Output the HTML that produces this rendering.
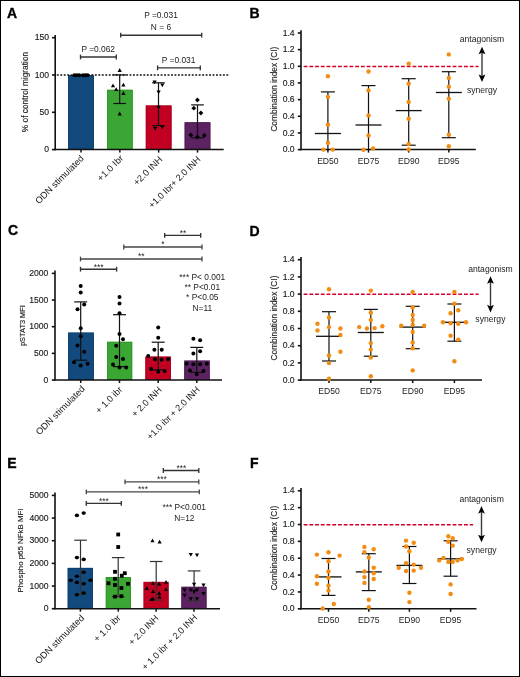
<!DOCTYPE html>
<html><head><meta charset="utf-8"><title>Figure</title>
<style>
html,body{margin:0;padding:0;background:#fff;}
body{width:520px;height:677px;overflow:hidden;}
svg{display:block;font-family:"Liberation Sans",sans-serif;filter:blur(0.25px);}
text.t{stroke:#222;stroke-width:0.15px;}
</style></head>
<body>
<svg width="520" height="677" viewBox="0 0 520 677">
<rect x="0" y="0" width="520" height="677" fill="#fff"/>
<rect x="0.5" y="0.5" width="519" height="676" fill="none" stroke="#000" stroke-width="1"/>
<text x="7.10" y="17.70" font-size="14.0" text-anchor="start" font-weight="bold" fill="#000" stroke="#000" stroke-width="0.35">A</text>
<line x1="55.20" y1="34.90" x2="55.20" y2="150.20" stroke="#111" stroke-width="1.6" />
<line x1="52.00" y1="37.70" x2="55.20" y2="37.70" stroke="#111" stroke-width="1.6" />
<text x="49.00" y="40.30" font-size="8.6" text-anchor="end" font-weight="normal" fill="#222" class="t">150</text>
<line x1="52.00" y1="75.00" x2="55.20" y2="75.00" stroke="#111" stroke-width="1.6" />
<text x="49.00" y="77.60" font-size="8.6" text-anchor="end" font-weight="normal" fill="#222" class="t">100</text>
<line x1="52.00" y1="112.30" x2="55.20" y2="112.30" stroke="#111" stroke-width="1.6" />
<text x="49.00" y="114.90" font-size="8.6" text-anchor="end" font-weight="normal" fill="#222" class="t">50</text>
<line x1="52.00" y1="149.60" x2="55.20" y2="149.60" stroke="#111" stroke-width="1.6" />
<text x="49.00" y="152.20" font-size="8.6" text-anchor="end" font-weight="normal" fill="#222" class="t">0</text>
<rect x="68.15" y="75.20" width="25.70" height="74.40" fill="#124a7e"/>
<rect x="68.60" y="75.65" width="24.80" height="73.50" fill="none" stroke="#0c3e70" stroke-width="0.9"/>
<rect x="107.00" y="89.80" width="25.70" height="59.80" fill="#3ca635"/>
<rect x="107.45" y="90.25" width="24.80" height="58.90" fill="none" stroke="#2f962a" stroke-width="0.9"/>
<rect x="145.80" y="105.50" width="25.70" height="44.10" fill="#c10022"/>
<rect x="146.25" y="105.95" width="24.80" height="43.20" fill="none" stroke="#a9001d" stroke-width="0.9"/>
<rect x="184.65" y="122.30" width="25.70" height="27.30" fill="#5c2262"/>
<rect x="185.10" y="122.75" width="24.80" height="26.40" fill="none" stroke="#4b1a52" stroke-width="0.9"/>
<line x1="55.20" y1="75.00" x2="229.00" y2="75.00" stroke="#111" stroke-width="1.5" stroke-dasharray="1.9 1.56" stroke-dashoffset="1.83"/>
<line x1="54.60" y1="149.60" x2="223.70" y2="149.60" stroke="#111" stroke-width="1.5" />
<line x1="81.00" y1="149.60" x2="81.00" y2="152.60" stroke="#111" stroke-width="1.5" />
<line x1="119.85" y1="149.60" x2="119.85" y2="152.60" stroke="#111" stroke-width="1.5" />
<line x1="158.65" y1="149.60" x2="158.65" y2="152.60" stroke="#111" stroke-width="1.5" />
<line x1="197.50" y1="149.60" x2="197.50" y2="152.60" stroke="#111" stroke-width="1.5" />
<line x1="119.70" y1="74.90" x2="119.70" y2="103.50" stroke="#111" stroke-width="1.2" />
<line x1="113.35" y1="74.90" x2="126.05" y2="74.90" stroke="#111" stroke-width="1.2" />
<line x1="113.35" y1="103.50" x2="126.05" y2="103.50" stroke="#111" stroke-width="1.2" />
<line x1="158.50" y1="82.80" x2="158.50" y2="125.70" stroke="#111" stroke-width="1.2" />
<line x1="152.15" y1="82.80" x2="164.85" y2="82.80" stroke="#111" stroke-width="1.2" />
<line x1="152.15" y1="125.70" x2="164.85" y2="125.70" stroke="#111" stroke-width="1.2" />
<line x1="197.50" y1="104.90" x2="197.50" y2="137.70" stroke="#111" stroke-width="1.2" />
<line x1="191.15" y1="104.90" x2="203.85" y2="104.90" stroke="#111" stroke-width="1.2" />
<line x1="191.15" y1="137.70" x2="203.85" y2="137.70" stroke="#111" stroke-width="1.2" />
<circle cx="74.40" cy="75.20" r="2.0" fill="#000"/>
<circle cx="76.80" cy="75.20" r="2.0" fill="#000"/>
<circle cx="79.20" cy="75.20" r="2.0" fill="#000"/>
<circle cx="83.00" cy="75.20" r="2.0" fill="#000"/>
<circle cx="85.40" cy="75.20" r="2.0" fill="#000"/>
<circle cx="87.50" cy="75.20" r="2.0" fill="#000"/>
<path d="M117.60,71.89 L121.80,71.89 L119.70,68.11Z" fill="#000"/>
<path d="M110.90,87.29 L115.10,87.29 L113.00,83.51Z" fill="#000"/>
<path d="M114.10,91.09 L118.30,91.09 L116.20,87.31Z" fill="#000"/>
<path d="M121.30,86.49 L125.50,86.49 L123.40,82.71Z" fill="#000"/>
<path d="M121.30,94.89 L125.50,94.89 L123.40,91.11Z" fill="#000"/>
<path d="M117.60,115.39 L121.80,115.39 L119.70,111.61Z" fill="#000"/>
<path d="M152.50,80.41 L156.70,80.41 L154.60,84.19Z" fill="#000"/>
<path d="M160.20,83.51 L164.40,83.51 L162.30,87.29Z" fill="#000"/>
<path d="M156.50,90.41 L160.70,90.41 L158.60,94.19Z" fill="#000"/>
<path d="M156.50,105.81 L160.70,105.81 L158.60,109.59Z" fill="#000"/>
<path d="M153.10,126.91 L157.30,126.91 L155.20,130.69Z" fill="#000"/>
<path d="M160.20,125.51 L164.40,125.51 L162.30,129.29Z" fill="#000"/>
<path d="M197.40,97.60 L199.80,100.00 L197.40,102.40 L195.00,100.00Z" fill="#000"/>
<path d="M193.80,105.80 L196.20,108.20 L193.80,110.60 L191.40,108.20Z" fill="#000"/>
<path d="M200.90,110.60 L203.30,113.00 L200.90,115.40 L198.50,113.00Z" fill="#000"/>
<path d="M190.80,132.60 L193.20,135.00 L190.80,137.40 L188.40,135.00Z" fill="#000"/>
<path d="M197.40,134.60 L199.80,137.00 L197.40,139.40 L195.00,137.00Z" fill="#000"/>
<path d="M204.30,133.00 L206.70,135.40 L204.30,137.80 L201.90,135.40Z" fill="#000"/>
<line x1="80.50" y1="57.00" x2="116.30" y2="57.00" stroke="#333" stroke-width="1.35" />
<line x1="80.50" y1="54.60" x2="80.50" y2="59.40" stroke="#333" stroke-width="1.35" />
<line x1="116.30" y1="54.60" x2="116.30" y2="59.40" stroke="#333" stroke-width="1.35" />
<text x="98.20" y="52.40" font-size="8.4" text-anchor="middle" font-weight="normal" fill="#222" >P =0.062</text>
<line x1="120.70" y1="35.20" x2="201.70" y2="35.20" stroke="#333" stroke-width="1.35" />
<line x1="120.70" y1="32.80" x2="120.70" y2="37.60" stroke="#333" stroke-width="1.35" />
<line x1="201.70" y1="32.80" x2="201.70" y2="37.60" stroke="#333" stroke-width="1.35" />
<text x="161.00" y="18.00" font-size="8.4" text-anchor="middle" font-weight="normal" fill="#222" >P =0.031</text>
<text x="161.00" y="30.40" font-size="8.4" text-anchor="middle" font-weight="normal" fill="#222" >N = 6</text>
<line x1="157.60" y1="67.80" x2="200.30" y2="67.80" stroke="#333" stroke-width="1.35" />
<line x1="157.60" y1="65.40" x2="157.60" y2="70.20" stroke="#333" stroke-width="1.35" />
<line x1="200.30" y1="65.40" x2="200.30" y2="70.20" stroke="#333" stroke-width="1.35" />
<text x="178.60" y="63.00" font-size="8.4" text-anchor="middle" font-weight="normal" fill="#222" >P =0.031</text>
<text x="0" y="0" font-size="8.3" text-anchor="middle" fill="#222" transform="translate(25.40,92.00) rotate(-90)" dominant-baseline="central" class="t">% of control migration</text>
<text x="0" y="0" font-size="9.2" text-anchor="end" fill="#222" textLength="64.35" lengthAdjust="spacingAndGlyphs" transform="translate(84.38,158.96) rotate(-45)">ODN stimulated</text>
<text x="0" y="0" font-size="9.2" text-anchor="end" fill="#222" textLength="33.05" lengthAdjust="spacingAndGlyphs" transform="translate(124.01,158.71) rotate(-45)">+1.0 Ibr</text>
<text x="0" y="0" font-size="9.2" text-anchor="end" fill="#222" textLength="36.93" lengthAdjust="spacingAndGlyphs" transform="translate(162.99,159.94) rotate(-45)">+2.0 INH</text>
<text x="0" y="0" font-size="9.2" text-anchor="end" fill="#222" textLength="69.12" lengthAdjust="spacingAndGlyphs" transform="translate(201.14,159.94) rotate(-45)">+1.0 Ibr+ 2.0 INH</text>
<text x="249.60" y="17.70" font-size="14.0" text-anchor="start" font-weight="bold" fill="#000" stroke="#000" stroke-width="0.35">B</text>
<line x1="301.00" y1="30.18" x2="301.00" y2="150.20" stroke="#111" stroke-width="1.6" />
<line x1="297.80" y1="32.98" x2="301.00" y2="32.98" stroke="#111" stroke-width="1.6" />
<text x="294.60" y="35.58" font-size="8.6" text-anchor="end" font-weight="normal" fill="#222" class="t">1.4</text>
<line x1="297.80" y1="49.64" x2="301.00" y2="49.64" stroke="#111" stroke-width="1.6" />
<text x="294.60" y="52.24" font-size="8.6" text-anchor="end" font-weight="normal" fill="#222" class="t">1.2</text>
<line x1="297.80" y1="66.30" x2="301.00" y2="66.30" stroke="#111" stroke-width="1.6" />
<text x="294.60" y="68.90" font-size="8.6" text-anchor="end" font-weight="normal" fill="#222" class="t">1.0</text>
<line x1="297.80" y1="82.96" x2="301.00" y2="82.96" stroke="#111" stroke-width="1.6" />
<text x="294.60" y="85.56" font-size="8.6" text-anchor="end" font-weight="normal" fill="#222" class="t">0.8</text>
<line x1="297.80" y1="99.62" x2="301.00" y2="99.62" stroke="#111" stroke-width="1.6" />
<text x="294.60" y="102.22" font-size="8.6" text-anchor="end" font-weight="normal" fill="#222" class="t">0.6</text>
<line x1="297.80" y1="116.28" x2="301.00" y2="116.28" stroke="#111" stroke-width="1.6" />
<text x="294.60" y="118.88" font-size="8.6" text-anchor="end" font-weight="normal" fill="#222" class="t">0.4</text>
<line x1="297.80" y1="132.94" x2="301.00" y2="132.94" stroke="#111" stroke-width="1.6" />
<text x="294.60" y="135.54" font-size="8.6" text-anchor="end" font-weight="normal" fill="#222" class="t">0.2</text>
<line x1="297.80" y1="149.60" x2="301.00" y2="149.60" stroke="#111" stroke-width="1.6" />
<text x="294.60" y="152.20" font-size="8.6" text-anchor="end" font-weight="normal" fill="#222" class="t">0.0</text>
<line x1="300.20" y1="149.60" x2="475.80" y2="149.60" stroke="#111" stroke-width="1.5" />
<line x1="327.90" y1="149.60" x2="327.90" y2="152.60" stroke="#111" stroke-width="1.5" />
<line x1="368.50" y1="149.60" x2="368.50" y2="152.60" stroke="#111" stroke-width="1.5" />
<line x1="408.70" y1="149.60" x2="408.70" y2="152.60" stroke="#111" stroke-width="1.5" />
<line x1="448.80" y1="149.60" x2="448.80" y2="152.60" stroke="#111" stroke-width="1.5" />
<line x1="303.60" y1="66.50" x2="478.50" y2="66.50" stroke="#d4002a" stroke-width="1.5" stroke-dasharray="3.85 1.88"/>
<line x1="327.90" y1="91.90" x2="327.90" y2="149.60" stroke="#111" stroke-width="1.2" />
<line x1="320.90" y1="91.90" x2="334.90" y2="91.90" stroke="#111" stroke-width="1.2" />
<line x1="314.90" y1="133.50" x2="340.90" y2="133.50" stroke="#111" stroke-width="1.3" />
<circle cx="327.90" cy="76.30" r="2.2" fill="#f28c12"/>
<circle cx="327.90" cy="96.90" r="2.2" fill="#f28c12"/>
<circle cx="327.90" cy="124.80" r="2.2" fill="#f28c12"/>
<circle cx="327.90" cy="142.70" r="2.2" fill="#f28c12"/>
<circle cx="323.50" cy="149.60" r="2.2" fill="#f28c12"/>
<circle cx="332.70" cy="149.60" r="2.2" fill="#f28c12"/>
<line x1="368.50" y1="85.60" x2="368.50" y2="149.60" stroke="#111" stroke-width="1.2" />
<line x1="361.50" y1="85.60" x2="375.50" y2="85.60" stroke="#111" stroke-width="1.2" />
<line x1="355.50" y1="125.00" x2="381.50" y2="125.00" stroke="#111" stroke-width="1.3" />
<circle cx="368.50" cy="71.50" r="2.2" fill="#f28c12"/>
<circle cx="368.50" cy="90.40" r="2.2" fill="#f28c12"/>
<circle cx="368.50" cy="115.40" r="2.2" fill="#f28c12"/>
<circle cx="368.50" cy="135.40" r="2.2" fill="#f28c12"/>
<circle cx="363.50" cy="149.80" r="2.2" fill="#f28c12"/>
<circle cx="373.10" cy="148.50" r="2.2" fill="#f28c12"/>
<line x1="408.70" y1="78.70" x2="408.70" y2="145.20" stroke="#111" stroke-width="1.2" />
<line x1="401.70" y1="78.70" x2="415.70" y2="78.70" stroke="#111" stroke-width="1.2" />
<line x1="401.70" y1="145.20" x2="415.70" y2="145.20" stroke="#111" stroke-width="1.2" />
<line x1="395.70" y1="110.60" x2="421.70" y2="110.60" stroke="#111" stroke-width="1.3" />
<circle cx="408.70" cy="63.80" r="2.2" fill="#f28c12"/>
<circle cx="408.70" cy="83.70" r="2.2" fill="#f28c12"/>
<circle cx="408.70" cy="101.90" r="2.2" fill="#f28c12"/>
<circle cx="408.70" cy="118.80" r="2.2" fill="#f28c12"/>
<circle cx="408.70" cy="144.00" r="2.2" fill="#f28c12"/>
<circle cx="408.70" cy="149.40" r="2.2" fill="#f28c12"/>
<line x1="448.80" y1="71.70" x2="448.80" y2="137.70" stroke="#111" stroke-width="1.2" />
<line x1="441.80" y1="71.70" x2="455.80" y2="71.70" stroke="#111" stroke-width="1.2" />
<line x1="441.80" y1="137.70" x2="455.80" y2="137.70" stroke="#111" stroke-width="1.2" />
<line x1="435.80" y1="92.50" x2="461.80" y2="92.50" stroke="#111" stroke-width="1.3" />
<circle cx="448.80" cy="54.40" r="2.2" fill="#f28c12"/>
<circle cx="448.80" cy="77.90" r="2.2" fill="#f28c12"/>
<circle cx="448.80" cy="86.70" r="2.2" fill="#f28c12"/>
<circle cx="448.80" cy="98.70" r="2.2" fill="#f28c12"/>
<circle cx="448.80" cy="134.80" r="2.2" fill="#f28c12"/>
<circle cx="448.80" cy="146.30" r="2.2" fill="#f28c12"/>
<line x1="482.00" y1="51.70" x2="482.00" y2="77.10" stroke="#3a3a3a" stroke-width="1.4" />
<path d="M482.00,46.70 L485.40,54.30 L482.00,52.70 L478.60,54.30Z" fill="#000"/>
<path d="M482.00,82.10 L485.40,74.50 L482.00,76.10 L478.60,74.50Z" fill="#000"/>
<text x="482.00" y="42.00" font-size="8.6" text-anchor="middle" font-weight="normal" fill="#222" >antagonism</text>
<text x="482.00" y="93.20" font-size="8.6" text-anchor="middle" font-weight="normal" fill="#222" >synergy</text>
<text x="0" y="0" font-size="8.3" text-anchor="middle" fill="#222" transform="translate(274.00,89.20) rotate(-90)" dominant-baseline="central" class="t">Combination index (CI)</text>
<text x="327.90" y="164.00" font-size="8.6" text-anchor="middle" font-weight="normal" fill="#222" >ED50</text>
<text x="368.50" y="164.00" font-size="8.6" text-anchor="middle" font-weight="normal" fill="#222" >ED75</text>
<text x="408.70" y="164.00" font-size="8.6" text-anchor="middle" font-weight="normal" fill="#222" >ED90</text>
<text x="448.80" y="164.00" font-size="8.6" text-anchor="middle" font-weight="normal" fill="#222" >ED95</text>
<text x="249.60" y="235.60" font-size="14.0" text-anchor="start" font-weight="bold" fill="#000" stroke="#000" stroke-width="0.35">D</text>
<line x1="301.00" y1="256.90" x2="301.00" y2="380.70" stroke="#111" stroke-width="1.6" />
<line x1="297.80" y1="259.70" x2="301.00" y2="259.70" stroke="#111" stroke-width="1.6" />
<text x="294.60" y="262.30" font-size="8.6" text-anchor="end" font-weight="normal" fill="#222" class="t">1.4</text>
<line x1="297.80" y1="276.90" x2="301.00" y2="276.90" stroke="#111" stroke-width="1.6" />
<text x="294.60" y="279.50" font-size="8.6" text-anchor="end" font-weight="normal" fill="#222" class="t">1.2</text>
<line x1="297.80" y1="294.10" x2="301.00" y2="294.10" stroke="#111" stroke-width="1.6" />
<text x="294.60" y="296.70" font-size="8.6" text-anchor="end" font-weight="normal" fill="#222" class="t">1.0</text>
<line x1="297.80" y1="311.30" x2="301.00" y2="311.30" stroke="#111" stroke-width="1.6" />
<text x="294.60" y="313.90" font-size="8.6" text-anchor="end" font-weight="normal" fill="#222" class="t">0.8</text>
<line x1="297.80" y1="328.50" x2="301.00" y2="328.50" stroke="#111" stroke-width="1.6" />
<text x="294.60" y="331.10" font-size="8.6" text-anchor="end" font-weight="normal" fill="#222" class="t">0.6</text>
<line x1="297.80" y1="345.70" x2="301.00" y2="345.70" stroke="#111" stroke-width="1.6" />
<text x="294.60" y="348.30" font-size="8.6" text-anchor="end" font-weight="normal" fill="#222" class="t">0.4</text>
<line x1="297.80" y1="362.90" x2="301.00" y2="362.90" stroke="#111" stroke-width="1.6" />
<text x="294.60" y="365.50" font-size="8.6" text-anchor="end" font-weight="normal" fill="#222" class="t">0.2</text>
<line x1="297.80" y1="380.10" x2="301.00" y2="380.10" stroke="#111" stroke-width="1.6" />
<text x="294.60" y="382.70" font-size="8.6" text-anchor="end" font-weight="normal" fill="#222" class="t">0.0</text>
<line x1="300.20" y1="380.10" x2="482.00" y2="380.10" stroke="#111" stroke-width="1.5" />
<line x1="329.00" y1="380.10" x2="329.00" y2="383.10" stroke="#111" stroke-width="1.5" />
<line x1="370.80" y1="380.10" x2="370.80" y2="383.10" stroke="#111" stroke-width="1.5" />
<line x1="412.70" y1="380.10" x2="412.70" y2="383.10" stroke="#111" stroke-width="1.5" />
<line x1="454.40" y1="380.10" x2="454.40" y2="383.10" stroke="#111" stroke-width="1.5" />
<line x1="303.60" y1="294.20" x2="478.60" y2="294.20" stroke="#d4002a" stroke-width="1.5" stroke-dasharray="3.85 1.88"/>
<line x1="329.00" y1="311.70" x2="329.00" y2="361.00" stroke="#111" stroke-width="1.2" />
<line x1="322.00" y1="311.70" x2="336.00" y2="311.70" stroke="#111" stroke-width="1.2" />
<line x1="322.00" y1="361.00" x2="336.00" y2="361.00" stroke="#111" stroke-width="1.2" />
<line x1="316.00" y1="336.30" x2="342.00" y2="336.30" stroke="#111" stroke-width="1.3" />
<circle cx="329.00" cy="289.20" r="2.2" fill="#f28c12"/>
<circle cx="329.00" cy="317.50" r="2.2" fill="#f28c12"/>
<circle cx="317.50" cy="323.70" r="2.2" fill="#f28c12"/>
<circle cx="317.50" cy="330.40" r="2.2" fill="#f28c12"/>
<circle cx="329.00" cy="327.10" r="2.2" fill="#f28c12"/>
<circle cx="340.40" cy="328.50" r="2.2" fill="#f28c12"/>
<circle cx="340.40" cy="335.00" r="2.2" fill="#f28c12"/>
<circle cx="340.40" cy="351.70" r="2.2" fill="#f28c12"/>
<circle cx="329.00" cy="355.40" r="2.2" fill="#f28c12"/>
<circle cx="329.00" cy="363.10" r="2.2" fill="#f28c12"/>
<circle cx="329.00" cy="378.70" r="2.2" fill="#f28c12"/>
<line x1="370.80" y1="309.40" x2="370.80" y2="356.20" stroke="#111" stroke-width="1.2" />
<line x1="363.80" y1="309.40" x2="377.80" y2="309.40" stroke="#111" stroke-width="1.2" />
<line x1="363.80" y1="356.20" x2="377.80" y2="356.20" stroke="#111" stroke-width="1.2" />
<line x1="357.80" y1="332.50" x2="383.80" y2="332.50" stroke="#111" stroke-width="1.3" />
<circle cx="370.80" cy="290.60" r="2.2" fill="#f28c12"/>
<circle cx="370.80" cy="312.70" r="2.2" fill="#f28c12"/>
<circle cx="370.80" cy="320.00" r="2.2" fill="#f28c12"/>
<circle cx="359.20" cy="327.10" r="2.2" fill="#f28c12"/>
<circle cx="366.90" cy="328.50" r="2.2" fill="#f28c12"/>
<circle cx="374.60" cy="328.10" r="2.2" fill="#f28c12"/>
<circle cx="382.30" cy="326.20" r="2.2" fill="#f28c12"/>
<circle cx="370.80" cy="343.10" r="2.2" fill="#f28c12"/>
<circle cx="370.80" cy="349.60" r="2.2" fill="#f28c12"/>
<circle cx="370.80" cy="357.50" r="2.2" fill="#f28c12"/>
<circle cx="370.80" cy="376.20" r="2.2" fill="#f28c12"/>
<line x1="412.70" y1="306.30" x2="412.70" y2="348.70" stroke="#111" stroke-width="1.2" />
<line x1="405.70" y1="306.30" x2="419.70" y2="306.30" stroke="#111" stroke-width="1.2" />
<line x1="405.70" y1="348.70" x2="419.70" y2="348.70" stroke="#111" stroke-width="1.2" />
<line x1="399.70" y1="327.10" x2="425.70" y2="327.10" stroke="#111" stroke-width="1.3" />
<circle cx="412.70" cy="291.90" r="2.2" fill="#f28c12"/>
<circle cx="412.70" cy="307.50" r="2.2" fill="#f28c12"/>
<circle cx="412.70" cy="315.00" r="2.2" fill="#f28c12"/>
<circle cx="412.70" cy="320.00" r="2.2" fill="#f28c12"/>
<circle cx="412.70" cy="324.80" r="2.2" fill="#f28c12"/>
<circle cx="401.20" cy="325.80" r="2.2" fill="#f28c12"/>
<circle cx="424.20" cy="325.80" r="2.2" fill="#f28c12"/>
<circle cx="412.70" cy="331.90" r="2.2" fill="#f28c12"/>
<circle cx="412.70" cy="342.50" r="2.2" fill="#f28c12"/>
<circle cx="412.70" cy="348.30" r="2.2" fill="#f28c12"/>
<circle cx="412.70" cy="370.40" r="2.2" fill="#f28c12"/>
<line x1="454.40" y1="304.00" x2="454.40" y2="341.20" stroke="#111" stroke-width="1.2" />
<line x1="447.40" y1="304.00" x2="461.40" y2="304.00" stroke="#111" stroke-width="1.2" />
<line x1="447.40" y1="341.20" x2="461.40" y2="341.20" stroke="#111" stroke-width="1.2" />
<line x1="441.40" y1="322.30" x2="467.40" y2="322.30" stroke="#111" stroke-width="1.3" />
<circle cx="454.40" cy="291.90" r="2.2" fill="#f28c12"/>
<circle cx="454.40" cy="303.70" r="2.2" fill="#f28c12"/>
<circle cx="458.30" cy="310.20" r="2.2" fill="#f28c12"/>
<circle cx="450.60" cy="313.30" r="2.2" fill="#f28c12"/>
<circle cx="442.90" cy="322.30" r="2.2" fill="#f28c12"/>
<circle cx="450.60" cy="323.30" r="2.2" fill="#f28c12"/>
<circle cx="458.30" cy="323.80" r="2.2" fill="#f28c12"/>
<circle cx="466.00" cy="322.30" r="2.2" fill="#f28c12"/>
<circle cx="450.60" cy="335.80" r="2.2" fill="#f28c12"/>
<circle cx="458.30" cy="339.60" r="2.2" fill="#f28c12"/>
<circle cx="454.40" cy="361.20" r="2.2" fill="#f28c12"/>
<line x1="490.50" y1="281.20" x2="490.50" y2="307.40" stroke="#3a3a3a" stroke-width="1.4" />
<path d="M490.50,276.20 L493.90,283.80 L490.50,282.20 L487.10,283.80Z" fill="#000"/>
<path d="M490.50,312.40 L493.90,304.80 L490.50,306.40 L487.10,304.80Z" fill="#000"/>
<text x="490.40" y="271.80" font-size="8.6" text-anchor="middle" font-weight="normal" fill="#222" >antagonism</text>
<text x="490.40" y="322.40" font-size="8.6" text-anchor="middle" font-weight="normal" fill="#222" >synergy</text>
<text x="0" y="0" font-size="8.3" text-anchor="middle" fill="#222" transform="translate(274.00,318.00) rotate(-90)" dominant-baseline="central" class="t">Combination index (CI)</text>
<text x="329.00" y="394.30" font-size="8.6" text-anchor="middle" font-weight="normal" fill="#222" >ED50</text>
<text x="370.80" y="394.30" font-size="8.6" text-anchor="middle" font-weight="normal" fill="#222" >ED75</text>
<text x="412.70" y="394.30" font-size="8.6" text-anchor="middle" font-weight="normal" fill="#222" >ED90</text>
<text x="454.40" y="394.30" font-size="8.6" text-anchor="middle" font-weight="normal" fill="#222" >ED95</text>
<text x="250.10" y="467.70" font-size="14.0" text-anchor="start" font-weight="bold" fill="#000" stroke="#000" stroke-width="0.35">F</text>
<line x1="301.00" y1="487.98" x2="301.00" y2="609.40" stroke="#111" stroke-width="1.6" />
<line x1="297.80" y1="490.78" x2="301.00" y2="490.78" stroke="#111" stroke-width="1.6" />
<text x="294.60" y="493.38" font-size="8.6" text-anchor="end" font-weight="normal" fill="#222" class="t">1.4</text>
<line x1="297.80" y1="507.64" x2="301.00" y2="507.64" stroke="#111" stroke-width="1.6" />
<text x="294.60" y="510.24" font-size="8.6" text-anchor="end" font-weight="normal" fill="#222" class="t">1.2</text>
<line x1="297.80" y1="524.50" x2="301.00" y2="524.50" stroke="#111" stroke-width="1.6" />
<text x="294.60" y="527.10" font-size="8.6" text-anchor="end" font-weight="normal" fill="#222" class="t">1.0</text>
<line x1="297.80" y1="541.36" x2="301.00" y2="541.36" stroke="#111" stroke-width="1.6" />
<text x="294.60" y="543.96" font-size="8.6" text-anchor="end" font-weight="normal" fill="#222" class="t">0.8</text>
<line x1="297.80" y1="558.22" x2="301.00" y2="558.22" stroke="#111" stroke-width="1.6" />
<text x="294.60" y="560.82" font-size="8.6" text-anchor="end" font-weight="normal" fill="#222" class="t">0.6</text>
<line x1="297.80" y1="575.08" x2="301.00" y2="575.08" stroke="#111" stroke-width="1.6" />
<text x="294.60" y="577.68" font-size="8.6" text-anchor="end" font-weight="normal" fill="#222" class="t">0.4</text>
<line x1="297.80" y1="591.94" x2="301.00" y2="591.94" stroke="#111" stroke-width="1.6" />
<text x="294.60" y="594.54" font-size="8.6" text-anchor="end" font-weight="normal" fill="#222" class="t">0.2</text>
<line x1="297.80" y1="608.80" x2="301.00" y2="608.80" stroke="#111" stroke-width="1.6" />
<text x="294.60" y="611.40" font-size="8.6" text-anchor="end" font-weight="normal" fill="#222" class="t">0.0</text>
<line x1="300.20" y1="608.80" x2="476.50" y2="608.80" stroke="#111" stroke-width="1.5" />
<line x1="328.50" y1="608.80" x2="328.50" y2="611.80" stroke="#111" stroke-width="1.5" />
<line x1="368.80" y1="608.80" x2="368.80" y2="611.80" stroke="#111" stroke-width="1.5" />
<line x1="409.40" y1="608.80" x2="409.40" y2="611.80" stroke="#111" stroke-width="1.5" />
<line x1="450.60" y1="608.80" x2="450.60" y2="611.80" stroke="#111" stroke-width="1.5" />
<line x1="303.60" y1="524.80" x2="473.20" y2="524.80" stroke="#d4002a" stroke-width="1.5" stroke-dasharray="3.85 1.88"/>
<line x1="328.50" y1="558.50" x2="328.50" y2="595.40" stroke="#111" stroke-width="1.2" />
<line x1="321.50" y1="558.50" x2="335.50" y2="558.50" stroke="#111" stroke-width="1.2" />
<line x1="321.50" y1="595.40" x2="335.50" y2="595.40" stroke="#111" stroke-width="1.2" />
<line x1="315.50" y1="576.90" x2="341.50" y2="576.90" stroke="#111" stroke-width="1.3" />
<circle cx="316.90" cy="554.60" r="2.2" fill="#f28c12"/>
<circle cx="328.50" cy="552.30" r="2.2" fill="#f28c12"/>
<circle cx="339.60" cy="555.60" r="2.2" fill="#f28c12"/>
<circle cx="328.50" cy="561.30" r="2.2" fill="#f28c12"/>
<circle cx="328.50" cy="571.50" r="2.2" fill="#f28c12"/>
<circle cx="316.90" cy="576.20" r="2.2" fill="#f28c12"/>
<circle cx="328.50" cy="577.70" r="2.2" fill="#f28c12"/>
<circle cx="316.90" cy="583.80" r="2.2" fill="#f28c12"/>
<circle cx="328.50" cy="585.80" r="2.2" fill="#f28c12"/>
<circle cx="328.50" cy="590.60" r="2.2" fill="#f28c12"/>
<circle cx="333.80" cy="604.00" r="2.2" fill="#f28c12"/>
<circle cx="322.70" cy="608.50" r="2.2" fill="#f28c12"/>
<line x1="368.80" y1="553.70" x2="368.80" y2="590.60" stroke="#111" stroke-width="1.2" />
<line x1="361.80" y1="553.70" x2="375.80" y2="553.70" stroke="#111" stroke-width="1.2" />
<line x1="361.80" y1="590.60" x2="375.80" y2="590.60" stroke="#111" stroke-width="1.2" />
<line x1="355.80" y1="571.90" x2="381.80" y2="571.90" stroke="#111" stroke-width="1.3" />
<circle cx="364.40" cy="546.90" r="2.2" fill="#f28c12"/>
<circle cx="373.70" cy="549.20" r="2.2" fill="#f28c12"/>
<circle cx="364.40" cy="552.10" r="2.2" fill="#f28c12"/>
<circle cx="368.80" cy="557.50" r="2.2" fill="#f28c12"/>
<circle cx="373.70" cy="567.70" r="2.2" fill="#f28c12"/>
<circle cx="364.40" cy="571.50" r="2.2" fill="#f28c12"/>
<circle cx="373.70" cy="573.30" r="2.2" fill="#f28c12"/>
<circle cx="364.40" cy="577.10" r="2.2" fill="#f28c12"/>
<circle cx="373.70" cy="579.00" r="2.2" fill="#f28c12"/>
<circle cx="364.40" cy="582.90" r="2.2" fill="#f28c12"/>
<circle cx="368.80" cy="599.80" r="2.2" fill="#f28c12"/>
<circle cx="368.80" cy="607.10" r="2.2" fill="#f28c12"/>
<line x1="409.40" y1="546.50" x2="409.40" y2="583.50" stroke="#111" stroke-width="1.2" />
<line x1="402.40" y1="546.50" x2="416.40" y2="546.50" stroke="#111" stroke-width="1.2" />
<line x1="402.40" y1="583.50" x2="416.40" y2="583.50" stroke="#111" stroke-width="1.2" />
<line x1="396.40" y1="565.40" x2="422.40" y2="565.40" stroke="#111" stroke-width="1.3" />
<circle cx="406.00" cy="540.60" r="2.2" fill="#f28c12"/>
<circle cx="413.70" cy="542.70" r="2.2" fill="#f28c12"/>
<circle cx="406.00" cy="546.50" r="2.2" fill="#f28c12"/>
<circle cx="409.40" cy="551.30" r="2.2" fill="#f28c12"/>
<circle cx="406.00" cy="563.30" r="2.2" fill="#f28c12"/>
<circle cx="413.70" cy="564.60" r="2.2" fill="#f28c12"/>
<circle cx="398.70" cy="567.70" r="2.2" fill="#f28c12"/>
<circle cx="421.00" cy="567.70" r="2.2" fill="#f28c12"/>
<circle cx="406.00" cy="571.00" r="2.2" fill="#f28c12"/>
<circle cx="413.70" cy="570.60" r="2.2" fill="#f28c12"/>
<circle cx="409.40" cy="592.70" r="2.2" fill="#f28c12"/>
<circle cx="409.40" cy="602.10" r="2.2" fill="#f28c12"/>
<line x1="450.60" y1="540.80" x2="450.60" y2="576.20" stroke="#111" stroke-width="1.2" />
<line x1="443.60" y1="540.80" x2="457.60" y2="540.80" stroke="#111" stroke-width="1.2" />
<line x1="443.60" y1="576.20" x2="457.60" y2="576.20" stroke="#111" stroke-width="1.2" />
<line x1="437.60" y1="558.80" x2="463.60" y2="558.80" stroke="#111" stroke-width="1.3" />
<circle cx="448.30" cy="536.30" r="2.2" fill="#f28c12"/>
<circle cx="452.70" cy="538.30" r="2.2" fill="#f28c12"/>
<circle cx="448.30" cy="541.70" r="2.2" fill="#f28c12"/>
<circle cx="452.70" cy="545.60" r="2.2" fill="#f28c12"/>
<circle cx="439.20" cy="560.40" r="2.2" fill="#f28c12"/>
<circle cx="443.50" cy="557.90" r="2.2" fill="#f28c12"/>
<circle cx="448.30" cy="561.90" r="2.2" fill="#f28c12"/>
<circle cx="452.70" cy="561.90" r="2.2" fill="#f28c12"/>
<circle cx="457.50" cy="560.40" r="2.2" fill="#f28c12"/>
<circle cx="461.70" cy="559.00" r="2.2" fill="#f28c12"/>
<circle cx="450.60" cy="584.40" r="2.2" fill="#f28c12"/>
<circle cx="450.60" cy="594.00" r="2.2" fill="#f28c12"/>
<line x1="481.50" y1="511.10" x2="481.50" y2="537.30" stroke="#3a3a3a" stroke-width="1.4" />
<path d="M481.50,506.10 L484.90,513.70 L481.50,512.10 L478.10,513.70Z" fill="#000"/>
<path d="M481.50,542.30 L484.90,534.70 L481.50,536.30 L478.10,534.70Z" fill="#000"/>
<text x="481.60" y="501.80" font-size="8.6" text-anchor="middle" font-weight="normal" fill="#222" >antagonism</text>
<text x="481.60" y="552.50" font-size="8.6" text-anchor="middle" font-weight="normal" fill="#222" >synergy</text>
<text x="0" y="0" font-size="8.3" text-anchor="middle" fill="#222" transform="translate(274.00,548.20) rotate(-90)" dominant-baseline="central" class="t">Combination index (CI)</text>
<text x="328.50" y="622.60" font-size="8.6" text-anchor="middle" font-weight="normal" fill="#222" >ED50</text>
<text x="368.80" y="622.60" font-size="8.6" text-anchor="middle" font-weight="normal" fill="#222" >ED75</text>
<text x="409.40" y="622.60" font-size="8.6" text-anchor="middle" font-weight="normal" fill="#222" >ED90</text>
<text x="450.60" y="622.60" font-size="8.6" text-anchor="middle" font-weight="normal" fill="#222" >ED95</text>
<text x="7.90" y="235.40" font-size="14.0" text-anchor="start" font-weight="bold" fill="#000" stroke="#000" stroke-width="0.35">C</text>
<line x1="55.00" y1="270.60" x2="55.00" y2="380.60" stroke="#111" stroke-width="1.6" />
<line x1="51.80" y1="273.40" x2="55.00" y2="273.40" stroke="#111" stroke-width="1.6" />
<text x="48.40" y="276.00" font-size="8.6" text-anchor="end" font-weight="normal" fill="#222" class="t">2000</text>
<line x1="51.80" y1="300.05" x2="55.00" y2="300.05" stroke="#111" stroke-width="1.6" />
<text x="48.40" y="302.65" font-size="8.6" text-anchor="end" font-weight="normal" fill="#222" class="t">1500</text>
<line x1="51.80" y1="326.70" x2="55.00" y2="326.70" stroke="#111" stroke-width="1.6" />
<text x="48.40" y="329.30" font-size="8.6" text-anchor="end" font-weight="normal" fill="#222" class="t">1000</text>
<line x1="51.80" y1="353.35" x2="55.00" y2="353.35" stroke="#111" stroke-width="1.6" />
<text x="48.40" y="355.95" font-size="8.6" text-anchor="end" font-weight="normal" fill="#222" class="t">500</text>
<line x1="51.80" y1="380.00" x2="55.00" y2="380.00" stroke="#111" stroke-width="1.6" />
<text x="48.40" y="382.60" font-size="8.6" text-anchor="end" font-weight="normal" fill="#222" class="t">0</text>
<rect x="68.20" y="332.60" width="25.60" height="47.40" fill="#124a7e"/>
<rect x="68.65" y="333.05" width="24.70" height="46.50" fill="none" stroke="#0c3e70" stroke-width="0.9"/>
<rect x="107.00" y="341.80" width="25.20" height="38.20" fill="#3ca635"/>
<rect x="107.45" y="342.25" width="24.30" height="37.30" fill="none" stroke="#2f962a" stroke-width="0.9"/>
<rect x="145.40" y="356.60" width="25.50" height="23.40" fill="#c10022"/>
<rect x="145.85" y="357.05" width="24.60" height="22.50" fill="none" stroke="#a9001d" stroke-width="0.9"/>
<rect x="184.30" y="360.60" width="25.40" height="19.40" fill="#5c2262"/>
<rect x="184.75" y="361.05" width="24.50" height="18.50" fill="none" stroke="#4b1a52" stroke-width="0.9"/>
<line x1="54.40" y1="380.00" x2="222.00" y2="380.00" stroke="#111" stroke-width="1.5" />
<line x1="80.70" y1="380.00" x2="80.70" y2="383.00" stroke="#111" stroke-width="1.5" />
<line x1="119.50" y1="380.00" x2="119.50" y2="383.00" stroke="#111" stroke-width="1.5" />
<line x1="158.20" y1="380.00" x2="158.20" y2="383.00" stroke="#111" stroke-width="1.5" />
<line x1="196.80" y1="380.00" x2="196.80" y2="383.00" stroke="#111" stroke-width="1.5" />
<line x1="80.70" y1="301.90" x2="80.70" y2="360.20" stroke="#111" stroke-width="1.2" />
<line x1="74.20" y1="301.90" x2="87.20" y2="301.90" stroke="#111" stroke-width="1.2" />
<line x1="74.20" y1="360.20" x2="87.20" y2="360.20" stroke="#111" stroke-width="1.2" />
<line x1="119.50" y1="314.70" x2="119.50" y2="366.60" stroke="#111" stroke-width="1.2" />
<line x1="113.00" y1="314.70" x2="126.00" y2="314.70" stroke="#111" stroke-width="1.2" />
<line x1="113.00" y1="366.60" x2="126.00" y2="366.60" stroke="#111" stroke-width="1.2" />
<line x1="158.20" y1="342.20" x2="158.20" y2="369.80" stroke="#111" stroke-width="1.2" />
<line x1="151.70" y1="342.20" x2="164.70" y2="342.20" stroke="#111" stroke-width="1.2" />
<line x1="151.70" y1="369.80" x2="164.70" y2="369.80" stroke="#111" stroke-width="1.2" />
<line x1="196.80" y1="347.40" x2="196.80" y2="372.30" stroke="#111" stroke-width="1.2" />
<line x1="190.30" y1="347.40" x2="203.30" y2="347.40" stroke="#111" stroke-width="1.2" />
<line x1="190.30" y1="372.30" x2="203.30" y2="372.30" stroke="#111" stroke-width="1.2" />
<circle cx="80.70" cy="285.90" r="2.0" fill="#000"/>
<circle cx="80.70" cy="292.60" r="2.0" fill="#000"/>
<circle cx="84.20" cy="304.50" r="2.0" fill="#000"/>
<circle cx="77.50" cy="309.30" r="2.0" fill="#000"/>
<circle cx="80.70" cy="328.20" r="2.0" fill="#000"/>
<circle cx="80.70" cy="336.20" r="2.0" fill="#000"/>
<circle cx="77.50" cy="345.40" r="2.0" fill="#000"/>
<circle cx="84.20" cy="351.80" r="2.0" fill="#000"/>
<circle cx="74.00" cy="362.30" r="2.0" fill="#000"/>
<circle cx="80.70" cy="365.60" r="2.0" fill="#000"/>
<circle cx="87.60" cy="363.70" r="2.0" fill="#000"/>
<circle cx="119.50" cy="296.90" r="2.0" fill="#000"/>
<circle cx="119.50" cy="303.60" r="2.0" fill="#000"/>
<circle cx="119.50" cy="313.20" r="2.0" fill="#000"/>
<circle cx="119.50" cy="333.90" r="2.0" fill="#000"/>
<circle cx="123.00" cy="339.30" r="2.0" fill="#000"/>
<circle cx="116.20" cy="345.80" r="2.0" fill="#000"/>
<circle cx="116.20" cy="357.00" r="2.0" fill="#000"/>
<circle cx="123.00" cy="358.90" r="2.0" fill="#000"/>
<circle cx="113.00" cy="364.60" r="2.0" fill="#000"/>
<circle cx="119.50" cy="367.50" r="2.0" fill="#000"/>
<circle cx="126.20" cy="367.50" r="2.0" fill="#000"/>
<circle cx="158.20" cy="327.60" r="2.0" fill="#000"/>
<circle cx="158.20" cy="337.80" r="2.0" fill="#000"/>
<circle cx="154.40" cy="349.70" r="2.0" fill="#000"/>
<circle cx="161.70" cy="349.70" r="2.0" fill="#000"/>
<circle cx="148.20" cy="356.00" r="2.0" fill="#000"/>
<circle cx="155.00" cy="359.30" r="2.0" fill="#000"/>
<circle cx="161.70" cy="359.80" r="2.0" fill="#000"/>
<circle cx="168.00" cy="359.30" r="2.0" fill="#000"/>
<circle cx="151.10" cy="369.00" r="2.0" fill="#000"/>
<circle cx="158.20" cy="371.80" r="2.0" fill="#000"/>
<circle cx="164.60" cy="371.00" r="2.0" fill="#000"/>
<circle cx="193.40" cy="338.70" r="2.0" fill="#000"/>
<circle cx="200.10" cy="340.30" r="2.0" fill="#000"/>
<circle cx="193.40" cy="353.50" r="2.0" fill="#000"/>
<circle cx="200.10" cy="351.20" r="2.0" fill="#000"/>
<circle cx="186.60" cy="363.70" r="2.0" fill="#000"/>
<circle cx="193.40" cy="364.30" r="2.0" fill="#000"/>
<circle cx="200.10" cy="364.30" r="2.0" fill="#000"/>
<circle cx="206.80" cy="363.70" r="2.0" fill="#000"/>
<circle cx="189.90" cy="370.40" r="2.0" fill="#000"/>
<circle cx="196.80" cy="374.20" r="2.0" fill="#000"/>
<circle cx="203.50" cy="371.00" r="2.0" fill="#000"/>
<line x1="80.50" y1="269.20" x2="116.60" y2="269.20" stroke="#333" stroke-width="1.35" />
<line x1="80.50" y1="266.80" x2="80.50" y2="271.60" stroke="#333" stroke-width="1.35" />
<line x1="116.60" y1="266.80" x2="116.60" y2="271.60" stroke="#333" stroke-width="1.35" />
<text x="98.60" y="269.60" font-size="8.4" text-anchor="middle" font-weight="normal" fill="#222" >***</text>
<line x1="80.50" y1="259.00" x2="202.00" y2="259.00" stroke="#444" stroke-width="1.3" />
<line x1="80.50" y1="256.60" x2="80.50" y2="261.40" stroke="#444" stroke-width="1.3" />
<line x1="202.00" y1="256.60" x2="202.00" y2="261.40" stroke="#444" stroke-width="1.3" />
<text x="141.30" y="259.40" font-size="8.4" text-anchor="middle" font-weight="normal" fill="#222" >**</text>
<line x1="123.80" y1="247.00" x2="202.00" y2="247.00" stroke="#444" stroke-width="1.3" />
<line x1="123.80" y1="244.60" x2="123.80" y2="249.40" stroke="#444" stroke-width="1.3" />
<line x1="202.00" y1="244.60" x2="202.00" y2="249.40" stroke="#444" stroke-width="1.3" />
<text x="162.80" y="247.40" font-size="8.4" text-anchor="middle" font-weight="normal" fill="#222" >*</text>
<line x1="164.70" y1="235.30" x2="200.70" y2="235.30" stroke="#333" stroke-width="1.35" />
<line x1="164.70" y1="232.90" x2="164.70" y2="237.70" stroke="#333" stroke-width="1.35" />
<line x1="200.70" y1="232.90" x2="200.70" y2="237.70" stroke="#333" stroke-width="1.35" />
<text x="183.00" y="235.70" font-size="8.4" text-anchor="middle" font-weight="normal" fill="#222" >**</text>
<text x="202.30" y="279.60" font-size="8.4" text-anchor="middle" font-weight="normal" fill="#222" >*** P&lt; 0.001</text>
<text x="202.30" y="290.00" font-size="8.4" text-anchor="middle" font-weight="normal" fill="#222" >** P&lt;0.01</text>
<text x="202.30" y="300.40" font-size="8.4" text-anchor="middle" font-weight="normal" fill="#222" >* P&lt;0.05</text>
<text x="202.30" y="310.60" font-size="8.4" text-anchor="middle" font-weight="normal" fill="#222" >N=11</text>
<text x="0" y="0" font-size="7.4" text-anchor="middle" fill="#222" transform="translate(22.00,325.60) rotate(-90)" dominant-baseline="central" class="t">pSTAT3 MFI</text>
<text x="0" y="0" font-size="9.2" text-anchor="end" fill="#222" textLength="65.08" lengthAdjust="spacingAndGlyphs" transform="translate(85.44,389.46) rotate(-45)">ODN stimulated</text>
<text x="0" y="0" font-size="9.2" text-anchor="end" fill="#222" textLength="33.56" lengthAdjust="spacingAndGlyphs" transform="translate(123.03,390.18) rotate(-45)">+ 1.0 ibr</text>
<text x="0" y="0" font-size="9.2" text-anchor="end" fill="#222" textLength="38.22" lengthAdjust="spacingAndGlyphs" transform="translate(162.37,390.47) rotate(-45)">+ 2.0 INH</text>
<text x="0" y="0" font-size="9.2" text-anchor="end" fill="#222" textLength="70.56" lengthAdjust="spacingAndGlyphs" transform="translate(200.43,390.28) rotate(-45)">+1.0 ibr + 2.0 INH</text>
<text x="7.30" y="467.50" font-size="14.0" text-anchor="start" font-weight="bold" fill="#000" stroke="#000" stroke-width="0.35">E</text>
<line x1="55.00" y1="492.60" x2="55.00" y2="609.30" stroke="#111" stroke-width="1.6" />
<line x1="51.80" y1="495.40" x2="55.00" y2="495.40" stroke="#111" stroke-width="1.6" />
<text x="48.60" y="498.00" font-size="8.6" text-anchor="end" font-weight="normal" fill="#222" class="t">5000</text>
<line x1="51.80" y1="518.06" x2="55.00" y2="518.06" stroke="#111" stroke-width="1.6" />
<text x="48.60" y="520.66" font-size="8.6" text-anchor="end" font-weight="normal" fill="#222" class="t">4000</text>
<line x1="51.80" y1="540.72" x2="55.00" y2="540.72" stroke="#111" stroke-width="1.6" />
<text x="48.60" y="543.32" font-size="8.6" text-anchor="end" font-weight="normal" fill="#222" class="t">3000</text>
<line x1="51.80" y1="563.38" x2="55.00" y2="563.38" stroke="#111" stroke-width="1.6" />
<text x="48.60" y="565.98" font-size="8.6" text-anchor="end" font-weight="normal" fill="#222" class="t">2000</text>
<line x1="51.80" y1="586.04" x2="55.00" y2="586.04" stroke="#111" stroke-width="1.6" />
<text x="48.60" y="588.64" font-size="8.6" text-anchor="end" font-weight="normal" fill="#222" class="t">1000</text>
<line x1="51.80" y1="608.70" x2="55.00" y2="608.70" stroke="#111" stroke-width="1.6" />
<text x="48.60" y="611.30" font-size="8.6" text-anchor="end" font-weight="normal" fill="#222" class="t">0</text>
<rect x="67.70" y="567.90" width="25.20" height="40.80" fill="#124a7e"/>
<rect x="68.15" y="568.35" width="24.30" height="39.90" fill="none" stroke="#0c3e70" stroke-width="0.9"/>
<rect x="105.80" y="577.10" width="25.20" height="31.60" fill="#3ca635"/>
<rect x="106.25" y="577.55" width="24.30" height="30.70" fill="none" stroke="#2f962a" stroke-width="0.9"/>
<rect x="143.60" y="581.90" width="25.00" height="26.80" fill="#c10022"/>
<rect x="144.05" y="582.35" width="24.10" height="25.90" fill="none" stroke="#a9001d" stroke-width="0.9"/>
<rect x="181.40" y="586.80" width="25.10" height="21.90" fill="#5c2262"/>
<rect x="181.85" y="587.25" width="24.20" height="21.00" fill="none" stroke="#4b1a52" stroke-width="0.9"/>
<line x1="54.40" y1="608.70" x2="220.00" y2="608.70" stroke="#111" stroke-width="1.5" />
<line x1="80.40" y1="608.70" x2="80.40" y2="611.70" stroke="#111" stroke-width="1.5" />
<line x1="118.30" y1="608.70" x2="118.30" y2="611.70" stroke="#111" stroke-width="1.5" />
<line x1="156.10" y1="608.70" x2="156.10" y2="611.70" stroke="#111" stroke-width="1.5" />
<line x1="194.00" y1="608.70" x2="194.00" y2="611.70" stroke="#111" stroke-width="1.5" />
<line x1="80.50" y1="540.20" x2="80.50" y2="594.40" stroke="#333" stroke-width="1.2" />
<line x1="74.20" y1="540.20" x2="86.80" y2="540.20" stroke="#333" stroke-width="1.2" />
<line x1="74.20" y1="594.40" x2="86.80" y2="594.40" stroke="#333" stroke-width="1.2" />
<line x1="118.20" y1="557.60" x2="118.20" y2="596.60" stroke="#333" stroke-width="1.2" />
<line x1="111.90" y1="557.60" x2="124.50" y2="557.60" stroke="#333" stroke-width="1.2" />
<line x1="111.90" y1="596.60" x2="124.50" y2="596.60" stroke="#333" stroke-width="1.2" />
<line x1="156.20" y1="561.50" x2="156.20" y2="600.10" stroke="#333" stroke-width="1.2" />
<line x1="149.90" y1="561.50" x2="162.50" y2="561.50" stroke="#333" stroke-width="1.2" />
<line x1="149.90" y1="600.10" x2="162.50" y2="600.10" stroke="#333" stroke-width="1.2" />
<line x1="194.10" y1="570.90" x2="194.10" y2="601.00" stroke="#333" stroke-width="1.2" />
<line x1="187.80" y1="570.90" x2="200.40" y2="570.90" stroke="#333" stroke-width="1.2" />
<line x1="187.80" y1="601.00" x2="200.40" y2="601.00" stroke="#333" stroke-width="1.2" />
<ellipse cx="76.90" cy="515.40" rx="2.2" ry="1.8" fill="#000"/>
<ellipse cx="83.70" cy="513.10" rx="2.2" ry="1.8" fill="#000"/>
<ellipse cx="76.90" cy="557.60" rx="2.2" ry="1.8" fill="#000"/>
<ellipse cx="83.70" cy="559.40" rx="2.2" ry="1.8" fill="#000"/>
<ellipse cx="83.70" cy="572.30" rx="2.2" ry="1.8" fill="#000"/>
<ellipse cx="76.90" cy="576.20" rx="2.2" ry="1.8" fill="#000"/>
<ellipse cx="70.70" cy="580.30" rx="2.2" ry="1.8" fill="#000"/>
<ellipse cx="90.40" cy="580.30" rx="2.2" ry="1.8" fill="#000"/>
<ellipse cx="76.90" cy="582.40" rx="2.2" ry="1.8" fill="#000"/>
<ellipse cx="83.70" cy="583.80" rx="2.2" ry="1.8" fill="#000"/>
<ellipse cx="76.90" cy="594.80" rx="2.2" ry="1.8" fill="#000"/>
<ellipse cx="83.70" cy="593.00" rx="2.2" ry="1.8" fill="#000"/>
<rect x="116.30" y="532.60" width="3.8" height="3.8" fill="#000"/>
<rect x="116.30" y="545.10" width="3.8" height="3.8" fill="#000"/>
<rect x="113.10" y="569.90" width="3.8" height="3.8" fill="#000"/>
<rect x="122.90" y="571.30" width="3.8" height="3.8" fill="#000"/>
<rect x="119.90" y="573.80" width="3.8" height="3.8" fill="#000"/>
<rect x="113.10" y="576.90" width="3.8" height="3.8" fill="#000"/>
<rect x="106.60" y="581.40" width="3.8" height="3.8" fill="#000"/>
<rect x="113.10" y="583.10" width="3.8" height="3.8" fill="#000"/>
<rect x="126.10" y="581.90" width="3.8" height="3.8" fill="#000"/>
<rect x="119.50" y="586.10" width="3.8" height="3.8" fill="#000"/>
<rect x="113.10" y="594.70" width="3.8" height="3.8" fill="#000"/>
<rect x="119.50" y="594.30" width="3.8" height="3.8" fill="#000"/>
<path d="M150.40,542.29 L154.60,542.29 L152.50,538.51Z" fill="#000"/>
<path d="M157.50,543.49 L161.70,543.49 L159.60,539.71Z" fill="#000"/>
<path d="M150.90,584.79 L155.10,584.79 L153.00,581.01Z" fill="#000"/>
<path d="M157.10,585.49 L161.30,585.49 L159.20,581.71Z" fill="#000"/>
<path d="M163.90,583.79 L168.10,583.79 L166.00,580.01Z" fill="#000"/>
<path d="M144.70,589.89 L148.90,589.89 L146.80,586.11Z" fill="#000"/>
<path d="M150.90,593.09 L155.10,593.09 L153.00,589.31Z" fill="#000"/>
<path d="M157.10,594.89 L161.30,594.89 L159.20,591.11Z" fill="#000"/>
<path d="M163.90,590.99 L168.10,590.99 L166.00,587.21Z" fill="#000"/>
<path d="M150.90,600.19 L155.10,600.19 L153.00,596.41Z" fill="#000"/>
<path d="M157.50,598.49 L161.70,598.49 L159.60,594.71Z" fill="#000"/>
<path d="M149.40,600.89 L153.60,600.89 L151.50,597.11Z" fill="#000"/>
<path d="M188.70,553.01 L192.90,553.01 L190.80,556.79Z" fill="#000"/>
<path d="M194.90,553.41 L199.10,553.41 L197.00,557.19Z" fill="#000"/>
<path d="M192.00,582.81 L196.20,582.81 L194.10,586.59Z" fill="#000"/>
<path d="M201.40,583.51 L205.60,583.51 L203.50,587.29Z" fill="#000"/>
<path d="M182.50,588.51 L186.70,588.51 L184.60,592.29Z" fill="#000"/>
<path d="M188.70,588.51 L192.90,588.51 L190.80,592.29Z" fill="#000"/>
<path d="M194.90,588.51 L199.10,588.51 L197.00,592.29Z" fill="#000"/>
<path d="M201.40,592.01 L205.60,592.01 L203.50,595.79Z" fill="#000"/>
<path d="M182.50,593.81 L186.70,593.81 L184.60,597.59Z" fill="#000"/>
<path d="M188.70,597.31 L192.90,597.31 L190.80,601.09Z" fill="#000"/>
<path d="M194.90,597.31 L199.10,597.31 L197.00,601.09Z" fill="#000"/>
<path d="M192.00,590.11 L196.20,590.11 L194.10,593.89Z" fill="#000"/>
<line x1="86.30" y1="503.30" x2="121.30" y2="503.30" stroke="#333" stroke-width="1.35" />
<line x1="86.30" y1="500.90" x2="86.30" y2="505.70" stroke="#333" stroke-width="1.35" />
<line x1="121.30" y1="500.90" x2="121.30" y2="505.70" stroke="#333" stroke-width="1.35" />
<text x="103.80" y="503.60" font-size="8.4" text-anchor="middle" font-weight="normal" fill="#222" >***</text>
<line x1="86.30" y1="491.80" x2="199.30" y2="491.80" stroke="#444" stroke-width="1.3" />
<line x1="86.30" y1="489.40" x2="86.30" y2="494.20" stroke="#444" stroke-width="1.3" />
<line x1="199.30" y1="489.40" x2="199.30" y2="494.20" stroke="#444" stroke-width="1.3" />
<text x="143.00" y="492.20" font-size="8.4" text-anchor="middle" font-weight="normal" fill="#222" >***</text>
<line x1="125.00" y1="481.80" x2="198.80" y2="481.80" stroke="#444" stroke-width="1.3" />
<line x1="125.00" y1="479.40" x2="125.00" y2="484.20" stroke="#444" stroke-width="1.3" />
<line x1="198.80" y1="479.40" x2="198.80" y2="484.20" stroke="#444" stroke-width="1.3" />
<text x="161.80" y="482.20" font-size="8.4" text-anchor="middle" font-weight="normal" fill="#222" >***</text>
<line x1="163.30" y1="470.50" x2="198.80" y2="470.50" stroke="#333" stroke-width="1.35" />
<line x1="163.30" y1="468.10" x2="163.30" y2="472.90" stroke="#333" stroke-width="1.35" />
<line x1="198.80" y1="468.10" x2="198.80" y2="472.90" stroke="#333" stroke-width="1.35" />
<text x="181.30" y="470.90" font-size="8.4" text-anchor="middle" font-weight="normal" fill="#222" >***</text>
<text x="184.20" y="510.00" font-size="8.4" text-anchor="middle" font-weight="normal" fill="#222" >*** P&lt;0.001</text>
<text x="184.40" y="520.50" font-size="8.4" text-anchor="middle" font-weight="normal" fill="#222" >N=12</text>
<text x="0" y="0" font-size="7.9" text-anchor="middle" fill="#222" transform="translate(20.60,550.50) rotate(-90)" dominant-baseline="central" class="t">Phospho p65 NFkB MFI</text>
<text x="0" y="0" font-size="9.2" text-anchor="end" fill="#222" textLength="65.07" lengthAdjust="spacingAndGlyphs" transform="translate(84.79,618.59) rotate(-45)">ODN stimulated</text>
<text x="0" y="0" font-size="9.2" text-anchor="end" fill="#222" textLength="34.17" lengthAdjust="spacingAndGlyphs" transform="translate(121.49,618.45) rotate(-45)">+ 1.0 ibr</text>
<text x="0" y="0" font-size="9.2" text-anchor="end" fill="#222" textLength="38.23" lengthAdjust="spacingAndGlyphs" transform="translate(159.21,618.71) rotate(-45)">+ 2.0 INH</text>
<text x="0" y="0" font-size="9.2" text-anchor="end" fill="#222" textLength="74.01" lengthAdjust="spacingAndGlyphs" transform="translate(197.90,618.09) rotate(-45)">+ 1.0 ibr + 2.0 INH</text>
</svg>
</body></html>
